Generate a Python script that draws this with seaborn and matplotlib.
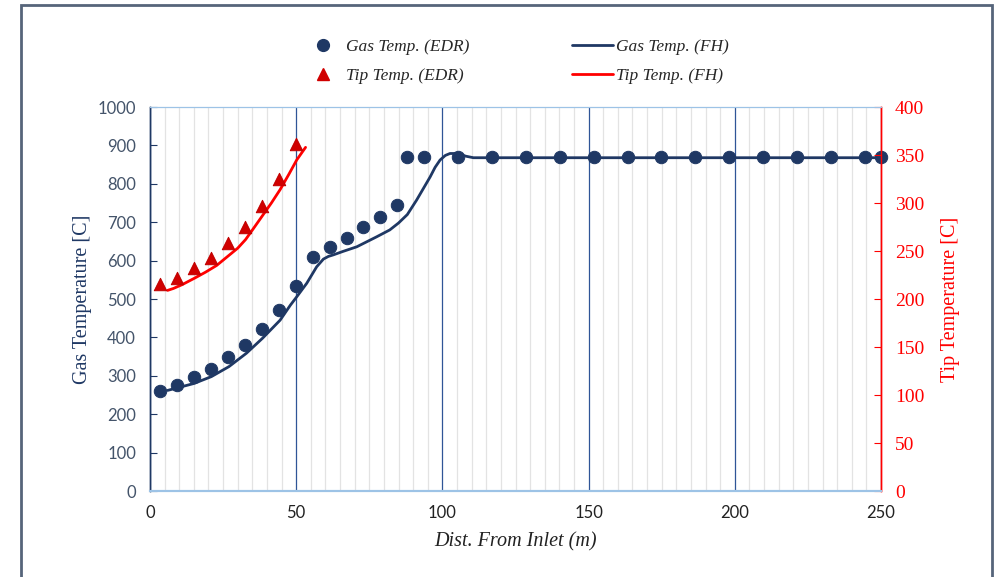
import numpy as np
import matplotlib
matplotlib.use("Agg")
import matplotlib.pyplot as plt
from matplotlib.patches import Rectangle
from matplotlib.lines import Line2D
from matplotlib.ticker import MultipleLocator
import seaborn as sns
import pandas as pd

# EDR points
dist_edr = [3.4, 9.2, 15.0, 20.8, 26.6, 32.4, 38.2, 44.0, 49.8, 55.6, 61.4, 67.2, 73.0, 78.8, 84.6,
            88.0, 93.8, 105.3, 116.9, 128.5, 140.1, 151.7, 163.3, 174.9, 186.5, 198.1, 209.7,
            221.3, 232.9, 244.5, 250.0]
gas_edr = [261, 276, 296, 318, 348, 379, 421, 471, 533, 609, 635, 659, 687, 714, 745,
           870, 870, 870, 870, 870, 870, 870, 870, 870, 870, 870, 870, 870, 870, 870, 870]
dist_edr_tip = [3.4, 9.2, 15.0, 20.8, 26.6, 32.4, 38.2, 44.0, 49.8]
tip_edr = [216, 222, 232, 243, 258, 275, 297, 325, 361]

# FH curves
dist_fh_gas = [6, 10, 15, 21, 27, 33, 38.5, 44.5, 48, 50.2, 53.6, 57, 59.3, 61, 62.7, 66, 70.7,
               77.5, 82, 85, 88, 91.2, 95.8, 97.5, 99.2, 101, 102.6, 104.5, 106, 108, 110.6, 116.3, 250]
gas_fh = [262, 270, 280, 298, 324, 359, 398, 445, 484, 506, 541, 584, 604, 611, 615, 624, 636,
          662, 680, 698, 720, 758, 818, 843, 862, 874, 879, 879, 877, 872, 868, 868, 868]
dist_fh_tip = [6, 8, 11, 15.4, 19, 22.8, 26.8, 30, 32.7, 35.5, 38.5, 41.5, 44.5, 47.5, 50.2, 53.2]
tip_fh = [209, 211, 215, 222, 228, 235, 245, 253, 262, 274, 287, 300, 314, 330, 345, 358]

NAVY = "#1F3864"
RED = "#FF0000"
TICKGREY = "#44546A"
SERIF = ["Liberation Serif", "DejaVu Serif"]
SANS = ["Lato", "DejaVu Sans"]

sns.set_style("white")
plt.rcParams['font.family'] = SANS

fig = plt.figure(figsize=(9.98, 5.77), dpi=100)
ax = fig.add_axes([0.1503, 0.149, 0.7325, 0.6655])
ax2 = ax.twinx()

gas_pts = pd.DataFrame({"x": dist_edr, "y": gas_edr})
tip_pts = pd.DataFrame({"x": dist_edr_tip, "y": tip_edr})
gas_line = pd.DataFrame({"x": dist_fh_gas, "y": gas_fh})
tip_line = pd.DataFrame({"x": dist_fh_tip, "y": tip_fh})

sns.lineplot(data=gas_line, x="x", y="y", ax=ax, color=NAVY, lw=2.0, zorder=3)
sns.scatterplot(data=gas_pts, x="x", y="y", ax=ax, color=NAVY, s=80, marker="o",
                edgecolor=NAVY, zorder=4, clip_on=False)
sns.lineplot(data=tip_line, x="x", y="y", ax=ax2, color=RED, lw=2.0, zorder=3)
sns.scatterplot(data=tip_pts, x="x", y="y", ax=ax2, color="#D00000", s=80, marker="^",
                edgecolor="#C00000", zorder=4)

ax.set_xlim(0, 250)
ax.set_ylim(0, 1000)
ax2.set_ylim(0, 400)
ax.yaxis.set_major_locator(MultipleLocator(100))
ax2.yaxis.set_major_locator(MultipleLocator(50))
ax.xaxis.set_major_locator(MultipleLocator(50))
ax.xaxis.set_minor_locator(MultipleLocator(5))

ax.grid(False)
ax2.grid(False)
ax.grid(True, which="minor", axis="x", color="#E3E3E3", lw=0.9)
ax.grid(True, which="major", axis="x", color="#2F5597", lw=0.9)
ax.set_axisbelow(True)

for a in (ax, ax2):
    a.spines["top"].set_color("#9DC3E6")
    a.spines["bottom"].set_color("#9DC3E6")
    a.spines["bottom"].set_linewidth(1.5)
    a.spines["left"].set_color(NAVY)
    a.spines["right"].set_color(RED)
    a.spines["left"].set_linewidth(1.0)
    a.spines["right"].set_linewidth(1.0)

ax.tick_params(axis="y", which="major", direction="in", length=5, color=NAVY,
               labelcolor=TICKGREY, labelsize=12, pad=10, left=True)
ax.tick_params(axis="x", which="both", length=0, labelsize=12, labelcolor="#222222", pad=10)
ax2.tick_params(axis="y", which="major", direction="in", length=5, color=RED,
                labelcolor=RED, labelsize=14, pad=10, right=True)
for lbl in ax2.get_yticklabels():
    lbl.set_family(SERIF)

ax.set_xlabel("Dist. From Inlet (m)", fontsize=14.5, style="italic", color="#222222",
              family=SERIF, labelpad=8)
ax.set_ylabel("Gas Temperature [C]", fontsize=14.5, color=NAVY, family=SERIF, labelpad=4)
ax2.set_ylabel("Tip Temperature [C]", fontsize=14.5, color=RED, family=SERIF, labelpad=12)

handles = [
    Line2D([], [], ls="none", marker="o", color=NAVY, markersize=8.5),
    Line2D([], [], ls="none", marker="^", color="#D00000", markersize=8.5),
    Line2D([], [], color=NAVY, lw=2.0),
    Line2D([], [], color=RED, lw=2.0),
]
labels = ["Gas Temp. (EDR)", "Tip Temp. (EDR)", "Gas Temp. (FH)", "Tip Temp. (FH)"]
fig.legend(handles, labels, ncol=2, frameon=False, loc="upper left", borderpad=0,
           bbox_to_anchor=(0.2946, 0.948), prop={"family": SERIF, "style": "italic", "size": 12.5},
           handlelength=2.36, handletextpad=0.15, columnspacing=5.9, labelspacing=0.75)

fig.patches.append(Rectangle((0.021, -0.05), 0.973, 1.0413, transform=fig.transFigure,
                             fill=False, edgecolor="#56657A", lw=2))

fig.savefig("out.png", dpi=100)
